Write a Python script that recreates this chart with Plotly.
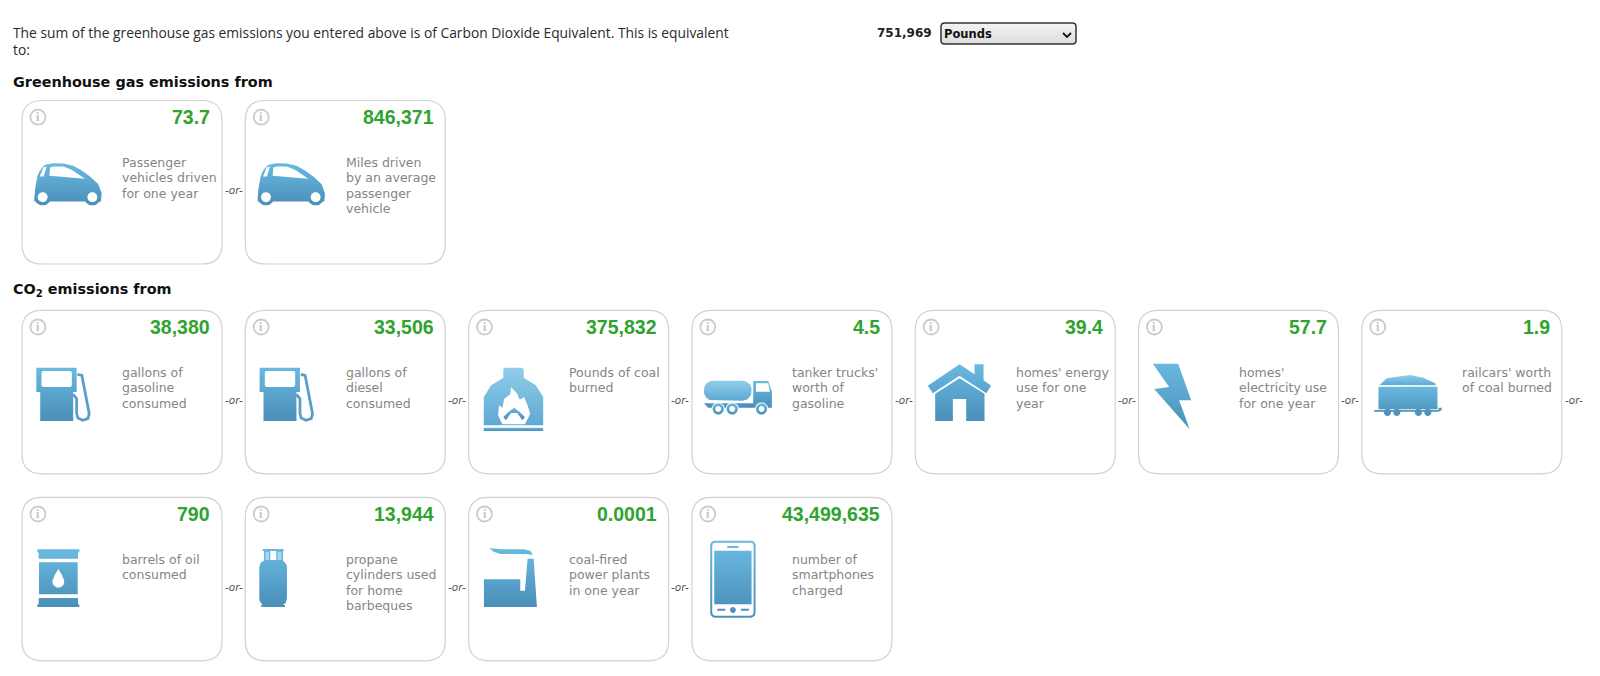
# Importar los módulos necesarios
import numpy as np
import plotly.graph_objects as go

# Textos de la cabecera
texto_linea1 = "The sum of the greenhouse gas emissions you entered above is of Carbon Dioxide Equivalent. This is equivalent"
texto_linea2 = "to:"
total_emisiones = "751,969"
unidad = "Pounds"
titulo_ghg = "Greenhouse gas emissions from"
titulo_co2 = "CO<sub>2</sub> emissions from"

# Datos de cada fila de tarjetas
valores_fila1 = ["73.7", "846,371"]
etiquetas_fila1 = [
    ["Passenger", "vehicles driven", "for one year"],
    ["Miles driven", "by an average", "passenger", "vehicle"],
]
iconos_fila1 = ["auto", "auto"]

valores_fila2 = ["38,380", "33,506", "375,832", "4.5", "39.4", "57.7", "1.9"]
etiquetas_fila2 = [
    ["gallons of", "gasoline", "consumed"],
    ["gallons of", "diesel", "consumed"],
    ["Pounds of coal", "burned"],
    ["tanker trucks'", "worth of", "gasoline"],
    ["homes' energy", "use for one", "year"],
    ["homes'", "electricity use", "for one year"],
    ["railcars' worth", "of coal burned"],
]
iconos_fila2 = ["surtidor", "surtidor", "horno", "camion", "casa", "rayo", "vagon"]

valores_fila3 = ["790", "13,944", "0.0001", "43,499,635"]
etiquetas_fila3 = [
    ["barrels of oil", "consumed"],
    ["propane", "cylinders used", "for home", "barbeques"],
    ["coal-fired", "power plants", "in one year"],
    ["number of", "smartphones", "charged"],
]
iconos_fila3 = ["barril", "bombona", "fabrica", "telefono"]

# Medidas de la página
ANCHO, ALTO = 1600, 676
ANCHO_TARJETA, ALTO_TARJETA = 200, 163.5
PASO_X = 223.3
IZQUIERDA = 22
# En el degradado vertical la posición 0 queda abajo
AZUL = [[0, "#4a8fb8"], [1, "#69b9e1"]]
AZUL_CLARO = [[0, "#5ea9d3"], [1, "#90cdea"]]
VERDE = "#2fa32f"
GRIS_TEXTO = "#858585"
GRIS_BORDE = "#d2d2d2"


# Función para generar un círculo como lista de puntos
def circulo(cx, cy, r):
    t = np.linspace(0, 2 * np.pi, 40)
    return list(zip(cx + r * np.cos(t), cy + r * np.sin(t)))


# Función para generar un rectángulo redondeado como lista de puntos
def redondeado(x0, y0, x1, y1, r):
    puntos = []
    for cx, cy, inicio in [(x1 - r, y0 + r, -90), (x1 - r, y1 - r, 0), (x0 + r, y1 - r, 90), (x0 + r, y0 + r, 180)]:
        t = np.radians(np.linspace(inicio, inicio + 90, 10))
        puntos += list(zip(cx + r * np.cos(t), cy + r * np.sin(t)))
    return puntos


def rect(x0, y0, x1, y1):
    return [(x0, y0), (x1, y0), (x1, y1), (x0, y1)]


# Cada icono: origen y escala del recorte, y capas en orden (tipo, polígonos)
ICONOS = {
    "auto": dict(ox=66, oy=302, sx=3, sy=3, capas=[
        ("azul", [
            [(103, 600), (105, 570), (112, 530), (118, 515), (125, 505), (135, 495), (160, 490), (190, 491),
             (220, 498), (245, 512), (270, 530), (295, 553), (305, 580), (303, 605), (103, 605)],
            circulo(128, 592, 25), circulo(277, 592, 25),
        ]),
        ("blanco", [
            circulo(128, 592, 15), circulo(277, 592, 15),
            [(150, 503), (160, 500), (190, 500), (215, 510), (255, 537), (148, 528)],
            [(130, 503), (140, 500), (131, 530), (119, 530)],
        ]),
    ]),
    "surtidor": dict(ox=52, oy=120, sx=2.306, sy=3, capas=[
        ("azul", [[(85, 292), (178, 292), (178, 365), (170, 365), (170, 452), (94, 452), (94, 365), (85, 365)]]),
        ("blanco", [redondeado(97, 302, 167, 350, 5)]),
        ("linea", [[(180, 312), (190, 315), (207, 430), (204, 445), (192, 450), (181, 443), (178, 430), (178, 385), (170, 372)]]),
    ]),
    "horno": dict(ox=1080, oy=120, sx=2.306, sy=3, capas=[
        ("claro", [
            [(1160, 296), (1165, 292), (1202, 292), (1207, 296), (1207, 322), (1235, 345), (1252, 380), (1252, 465),
             (1115, 465), (1115, 380), (1132, 345), (1160, 322)],
        ]),
        ("azul", [rect(1115, 472, 1252, 482)]),
        ("blanco", [[(1148, 435), (1150, 405), (1158, 412), (1162, 385), (1176, 372), (1178, 350), (1192, 370),
                     (1198, 388), (1208, 380), (1216, 405), (1222, 430), (1214, 450), (1210, 462), (1158, 462)]]),
        ("azul", [[(1160, 440), (1172, 425), (1185, 412), (1198, 425), (1210, 440), (1204, 450), (1192, 428),
                   (1178, 428), (1166, 450)]]),
    ]),
    "camion": dict(ox=66, oy=46, sx=3, sy=3, capas=[
        ("claro", [redondeado(102, 257, 245, 317, 28)]),
        ("azul", [[(250, 258), (295, 258), (306, 290), (306, 338), (115, 338), (102, 325), (250, 325)]]),
        ("blanco", [
            [(258, 265), (295, 265), (300, 290), (258, 290)],
            circulo(145, 342, 20), circulo(187, 342, 20), circulo(275, 342, 20),
        ]),
        ("azul", [circulo(145, 342, 17), circulo(187, 342, 17), circulo(275, 342, 17)]),
        ("blanco", [circulo(145, 342, 9), circulo(187, 342, 9), circulo(275, 342, 9)]),
    ]),
    "casa": dict(ox=737, oy=46, sx=3, sy=3, capas=[
        ("azul", [
            [(775, 272), (870, 208), (915, 238), (915, 208), (942, 208), (942, 256), (965, 272), (950, 295),
             (870, 242), (790, 295)],
            [(797, 296), (870, 250), (945, 296), (945, 378), (890, 378), (890, 312), (850, 312), (850, 378), (797, 378)],
        ]),
    ]),
    "rayo": dict(ox=85, oy=46, sx=3, sy=3, capas=[
        ("azul", [[(128, 206), (204, 206), (243, 316), (207, 316), (238, 402), (132, 282), (177, 276)]]),
    ]),
    "vagon": dict(ox=755, oy=46, sx=3, sy=3, capas=[
        ("claro", [[(808, 270), (830, 250), (860, 245), (900, 240), (940, 248), (975, 265), (978, 271)]]),
        ("azul", [
            rect(805, 275, 982, 343),
            [(792, 345), (985, 345), (985, 338), (995, 338), (995, 345), (985, 350), (792, 350)],
            circulo(832, 352, 11), circulo(860, 352, 11), circulo(925, 352, 11), circulo(953, 352, 11),
        ]),
    ]),
    "barril": dict(ox=66, oy=52, sx=3, sy=3, capas=[
        ("azul", [
            [(112, 208), (238, 208), (238, 216), (234, 218), (234, 236), (116, 236), (116, 218), (112, 216)],
            rect(117, 247, 233, 343),
            [(116, 354), (234, 354), (234, 372), (238, 374), (238, 381), (112, 381), (112, 374), (116, 372)],
        ]),
        ("blanco", [
            [(175, 267), (186, 285), (193, 305), (157, 305), (164, 285)],
            circulo(175, 305, 18),
        ]),
    ]),
    "bombona": dict(ox=737, oy=52, sx=3, sy=3, capas=[
        ("azul", [
            rect(789, 207, 852, 213), rect(793, 213, 812, 245), rect(830, 213, 850, 245),
            redondeado(779, 240, 862, 378, 22),
            rect(785, 375, 856, 381),
        ]),
        ("palido", [rect(797, 216, 808, 240), rect(834, 216, 846, 240)]),
    ]),
    "fabrica": dict(ox=55, oy=52, sx=3, sy=3, capas=[
        ("azul", [
            [(232, 236), (250, 236), (260, 381), (101, 381), (101, 298), (210, 298), (210, 332), (224, 332)],
            [(117, 204), (150, 208), (220, 208), (240, 212), (248, 225), (230, 222), (200, 222), (150, 222), (130, 215)],
        ]),
    ]),
    "telefono": dict(ox=725, oy=52, sx=3, sy=3, capas=[
        ("azul", [redondeado(780, 182, 916, 413, 14)]),
        ("blanco", [redondeado(786, 188, 910, 407, 9)]),
        ("azul", [
            rect(831, 198, 865, 204), rect(792, 212, 904, 373),
            rect(801, 386, 825, 392), rect(872, 386, 896, 392), circulo(848, 390, 9),
        ]),
    ]),
}


# Función para crear el trazo de un conjunto de polígonos
def trazo_poligonos(poligonos, **kwargs):
    xs, ys = [], []
    for poligono in poligonos:
        xs += [p[0] for p in poligono] + [poligono[0][0], None]
        ys += [p[1] for p in poligono] + [poligono[0][1], None]
    return go.Scatter(x=xs, y=ys, hoverinfo="skip", showlegend=False, **kwargs)


# Función para dibujar un icono dentro de una tarjeta
def dibujar_icono(fig, nombre, x0, y0):
    icono = ICONOS[nombre]
    for tipo, poligonos in icono["capas"]:
        convertidos = [[(x0 + (x - icono["ox"]) / icono["sx"], y0 + (y - icono["oy"]) / icono["sy"]) for x, y in p]
                       for p in poligonos]
        if tipo == "linea":
            for linea in convertidos:
                fig.add_trace(go.Scatter(x=[p[0] for p in linea], y=[p[1] for p in linea], mode="lines",
                                         line=dict(color="#589fc9", width=2.8), hoverinfo="skip", showlegend=False))
        elif tipo in ("azul", "claro"):
            escala = AZUL if tipo == "azul" else AZUL_CLARO
            fig.add_trace(trazo_poligonos(convertidos, mode="lines", line=dict(width=0), fill="toself",
                                          fillgradient=dict(type="vertical", colorscale=escala)))
        else:
            color = "#ffffff" if tipo == "blanco" else "#a9d6ee"
            fig.add_trace(trazo_poligonos(convertidos, mode="lines", line=dict(width=0), fill="toself",
                                          fillcolor=color))


# Función para agregar un texto en coordenadas de página
def agregar_texto(fig, x, y, texto, tam, color, familia="DejaVu Sans", ancla="left"):
    fig.add_annotation(x=x, y=y, text=texto, showarrow=False, xref="x", yref="y", xanchor=ancla, yanchor="middle",
                       borderpad=0, borderwidth=0, font=dict(family=familia, size=tam, color=color))


# Función para dibujar una fila de tarjetas
def dibujar_fila(fig, y0, valores, etiquetas, iconos, separadores):
    for i, (valor, lineas, icono) in enumerate(zip(valores, etiquetas, iconos)):
        x0 = IZQUIERDA + i * PASO_X
        x1, y1 = x0 + ANCHO_TARJETA, y0 + ALTO_TARJETA
        r = 20
        # Marco redondeado de la tarjeta
        fig.add_shape(type="path", layer="below", line=dict(color=GRIS_BORDE, width=1.2), fillcolor="white",
                      path=f"M {x0 + r},{y0} L {x1 - r},{y0} Q {x1},{y0} {x1},{y0 + r} L {x1},{y1 - r} "
                           f"Q {x1},{y1} {x1 - r},{y1} L {x0 + r},{y1} Q {x0},{y1} {x0},{y1 - r} "
                           f"L {x0},{y0 + r} Q {x0},{y0} {x0 + r},{y0} Z")
        # Icono de información
        fig.add_shape(type="circle", x0=x0 + 8.4, x1=x0 + 23.4, y0=y0 + 9.2, y1=y0 + 24.2,
                      line=dict(color="#cbcbcb", width=1.8))
        agregar_texto(fig, x0 + 15.9, y0 + 16.9, "<b>i</b>", 12, "#c4c4c4", "Liberation Serif", "center")
        # Valor y etiqueta
        agregar_texto(fig, x0 + 188.2, y0 + 16.6, f"<b>{valor}</b>", 19.5, VERDE, "Liberation Sans", "right")
        for j, linea in enumerate(lineas):
            agregar_texto(fig, x0 + 100.3, y0 + 62 + j * 15.35, linea, 12.5, GRIS_TEXTO)
        dibujar_icono(fig, icono, x0, y0)
        # Separador entre tarjetas
        if i < separadores:
            agregar_texto(fig, x0 + ANCHO_TARJETA + 11.7, y0 + 89.5, "<i>-or-</i>", 10.5, "#555555", "DejaVu Sans", "center")


# Función principal del programa
def main():
    fig = go.Figure()

    # Cabecera de la página
    agregar_texto(fig, 13, 32, texto_linea1, 13.8, "#2b2b2b", "Open Sans")
    agregar_texto(fig, 13, 49, texto_linea2, 13.8, "#2b2b2b", "Open Sans")
    agregar_texto(fig, 932, 33, f"<b>{total_emisiones}</b>", 12, "#222222", ancla="right")

    # Selector de unidades
    fig.add_trace(trazo_poligonos([redondeado(941, 23, 1076, 44, 3)], mode="lines", fill="toself",
                                  line=dict(color="#333333", width=1.5),
                                  fillgradient=dict(type="vertical", colorscale=[[0, "#dcdcdc"], [1, "#f4f4f4"]])))
    agregar_texto(fig, 944, 33.5, f"<b>{unidad}</b>", 11.5, "#111111")
    fig.add_shape(type="path", path="M 1063,33 L 1067,37 L 1071,33", line=dict(color="#111111", width=1.8))

    # Títulos de sección
    agregar_texto(fig, 13, 82, f"<b>{titulo_ghg}</b>", 14.4, "#111111")
    agregar_texto(fig, 13, 290, f"<b>{titulo_co2}</b>", 14.4, "#111111")

    # Filas de tarjetas
    dibujar_fila(fig, 100.5, valores_fila1, etiquetas_fila1, iconos_fila1, 1)
    dibujar_fila(fig, 310.3, valores_fila2, etiquetas_fila2, iconos_fila2, 7)
    dibujar_fila(fig, 497.3, valores_fila3, etiquetas_fila3, iconos_fila3, 3)

    # Actualizar el diseño de la figura
    fig.update_layout(
        width=ANCHO, height=ALTO, margin=dict(l=0, r=0, t=0, b=0),
        paper_bgcolor="white", plot_bgcolor="white", showlegend=False,
        xaxis=dict(range=[0, ANCHO], visible=False, fixedrange=True),
        yaxis=dict(range=[ALTO, 0], visible=False, fixedrange=True),
    )

    # Guardar la figura sin márgenes de página
    fig.write_html("out.html", config={"displayModeBar": False},
                   post_script="document.body.style.margin='0';document.body.style.overflow='hidden';")


# Ejecutar la función principal si este script se ejecuta como programa principal
if __name__ == "__main__":
    main()
